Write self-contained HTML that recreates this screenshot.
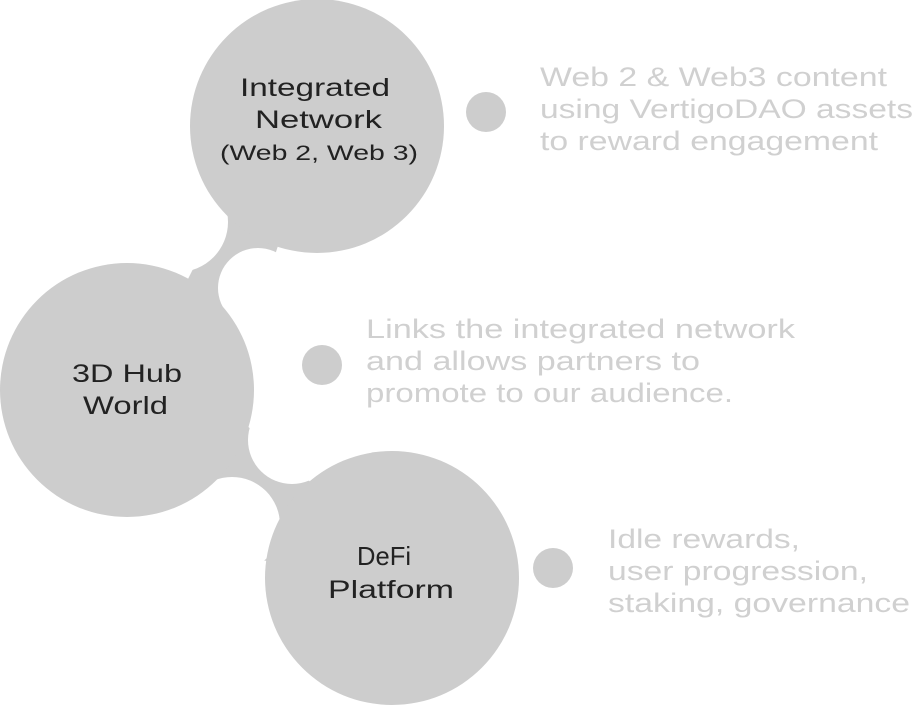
<!DOCTYPE html>
<html><head><style>html,body{margin:0;padding:0;background:#fff}svg{display:block}</style></head>
<body>
<svg width="923" height="705" viewBox="0 0 923 705" xmlns="http://www.w3.org/2000/svg">
<g fill="#cdcdcd">
<polygon points="317,126 210,205 200,255 185,285 127,390 240,300 275,255"/>
<polygon points="127,390 240,420 300,470 392,578 260,560 200,490"/>
</g>
<g fill="#fff">
<circle cx="178" cy="222" r="50"/>
<circle cx="258" cy="288" r="40"/>
<circle cx="292" cy="440" r="44"/>
<circle cx="232" cy="525" r="48"/>
</g>
<g fill="#cdcdcd">
<circle cx="317" cy="126" r="127"/>
<circle cx="127" cy="390" r="127"/>
<circle cx="392" cy="578" r="127"/>
<circle cx="486" cy="112" r="20"/>
<circle cx="322" cy="365" r="20"/>
<circle cx="553" cy="568" r="20"/>
</g>
<g font-family="Liberation Sans, sans-serif" fill="#222" font-size="25" style="font-variant-ligatures:none">
<text x="240" y="96" textLength="150" lengthAdjust="spacingAndGlyphs">Integrated</text>
<text x="255" y="128" textLength="127" lengthAdjust="spacingAndGlyphs">Network</text>
<text x="220" y="160" font-size="21" textLength="198" lengthAdjust="spacingAndGlyphs">(Web 2, Web 3)</text>
<text x="72" y="382" textLength="110" lengthAdjust="spacingAndGlyphs">3D Hub</text>
<text x="83" y="414" textLength="85" lengthAdjust="spacingAndGlyphs">World</text>
<text x="357" y="565" font-size="26" textLength="54" lengthAdjust="spacingAndGlyphs">D<tspan>e</tspan><tspan>F</tspan><tspan>i</tspan></text>
<text x="328" y="598" textLength="126" lengthAdjust="spacingAndGlyphs">Platform</text>
</g>
<g font-family="Liberation Sans, sans-serif" fill="#d0d0d0" font-size="27">
<text x="540" y="86" textLength="347" lengthAdjust="spacingAndGlyphs">Web 2 &amp; Web3 content</text>
<text x="540" y="118" textLength="373" lengthAdjust="spacingAndGlyphs">using VertigoDAO assets</text>
<text x="540" y="150" textLength="338" lengthAdjust="spacingAndGlyphs">to reward engagement</text>
<text x="366" y="338" textLength="429" lengthAdjust="spacingAndGlyphs">Links the integrated network</text>
<text x="366" y="370" textLength="334" lengthAdjust="spacingAndGlyphs">and allows partners to</text>
<text x="366" y="402" textLength="367" lengthAdjust="spacingAndGlyphs">promote to our audience.</text>
<text x="608" y="548" textLength="192" lengthAdjust="spacingAndGlyphs">Idle rewards,</text>
<text x="608" y="580" textLength="260" lengthAdjust="spacingAndGlyphs">user progression,</text>
<text x="608" y="612" textLength="302" lengthAdjust="spacingAndGlyphs">staking, governance</text>
</g>
</svg>
</body></html>
